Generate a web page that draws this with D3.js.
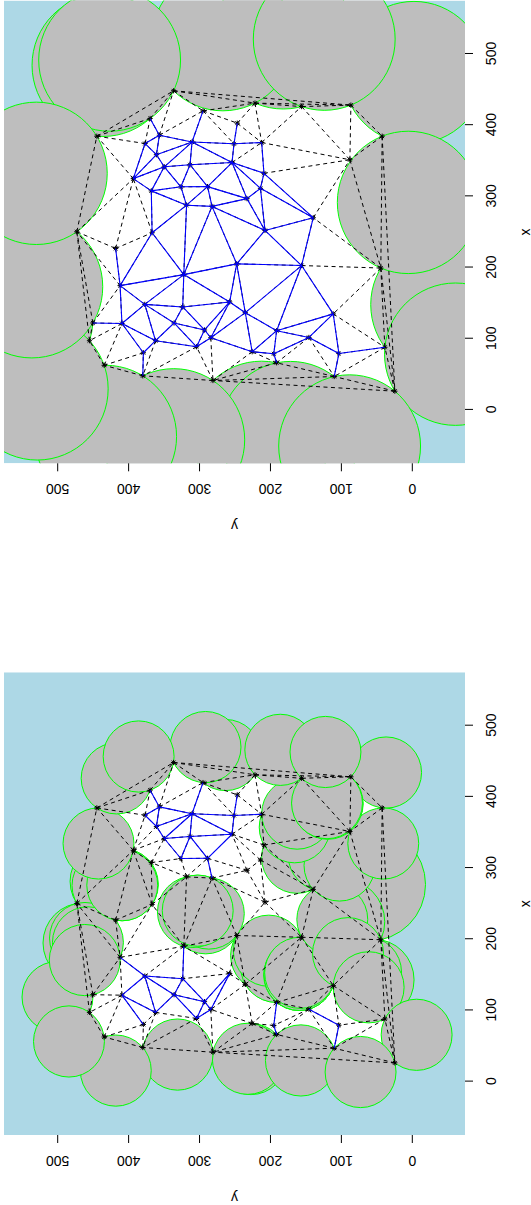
<!DOCTYPE html>
<html>
<head>
<meta charset="utf-8">
<script src="https://cdn.jsdelivr.net/npm/d3@7"></script>
<style>
  body { margin: 0; background: #fff; }
  svg { display: block; }
  text { font-family: "Liberation Sans", Arial, sans-serif; }
</style>
</head>
<body>
<script>
// sample points (x, y in data units)
var ptsX = [448.3, 431.0, 426.1, 428.2, 384.5, 351.4, 270.0, 199.3, 88.0, 26.3,
            46.9, 66.2, 41.3, 47.9, 62.7, 97.2, 122.1, 250.3, 384.5, 420.1,
            409.4, 385.9, 374.2, 376.3, 402.8, 373.9, 347.5, 375.6, 358.5, 344.4,
            341.5, 324.9, 307.7, 313.4, 313.7, 296.8, 287.6, 285.9, 311.3, 332.4,
            248.9, 226.8, 190.1, 205.2, 202.8, 174.6, 148.3, 144.6, 151.7, 136.6,
            121.4, 122.1, 112.3, 101.4, 97.2, 88.7, 80.3, 81.7, 111.3, 78.9,
            101.8, 134.9, 79.2, 252.1];
var ptsY = [335.9, 221.1, 155.4, 85.9, 41.8, 87.3, 139.0, 43.7, 38.0, 23.9,
            109.4, 190.6, 280.4, 379.3, 433.8, 454.5, 449.7, 472.3, 444.1, 294.4,
            369.0, 355.9, 376.1, 309.9, 246.1, 250.7, 253.5, 211.7, 360.1, 312.7,
            349.0, 392.7, 367.3, 325.6, 288.0, 232.4, 317.6, 281.7, 213.4, 208.5,
            366.2, 417.6, 321.5, 246.9, 155.4, 411.3, 376.5, 323.0, 256.8, 234.8,
            408.7, 335.2, 292.3, 283.4, 361.3, 303.5, 378.5, 225.1, 190.6, 194.6,
            145.1, 110.8, 102.8, 207.0];

var xTicks = [0, 100, 200, 300, 400, 500];
var yTicks = [0, 100, 200, 300, 400, 500];

// alpha of each panel (top, bottom)
var alphaTop = 100;
var alphaBottom = 50;

// points whose delaunay edges are drawn blue, per panel
var blueSetTop = [21, 22, 23, 25, 26].concat(d3.range(28, 64));
var dashedOnlyTop = [[31, 41], [31, 40], [40, 41]];
var extraBlueTop = [[20, 21], [19, 23], [24, 25], [27, 25], [27, 39], [6, 39], [6, 38],
                    [6, 63], [6, 44], [6, 35], [8, 62], [10, 62], [11, 59], [13, 56], [16, 50]];

var blueSetBottom = [21, 22, 23, 25, 26, 28, 29, 30, 33, 34,
                     45, 46, 47, 48, 50, 51, 52, 53, 54, 55, 56];
var dashedOnlyBottom = [[47, 48], [54, 55], [54, 56], [45, 50]];
var extraBlueBottom = [[20, 21], [19, 23], [24, 25], [25, 27], [34, 37], [42, 47],
                       [58, 59], [59, 11], [60, 62], [62, 10]];

var pts = ptsX.map(function(v, i) { return [v, ptsY[i]]; });
var delaunay = d3.Delaunay.from(pts);
var tri = delaunay.triangles, half = delaunay.halfedges;
function nextE(e) { return e % 3 === 2 ? e - 2 : e + 1; }
function prevE(e) { return e % 3 === 0 ? e + 2 : e - 1; }

// circumcircles of the triangles (voronoi vertices)
var cc = [];
for (var t = 0; t < tri.length / 3; t++) {
  var a = pts[tri[3 * t]], b = pts[tri[3 * t + 1]], c = pts[tri[3 * t + 2]];
  var d = 2 * (a[0] * (b[1] - c[1]) + b[0] * (c[1] - a[1]) + c[0] * (a[1] - b[1]));
  var a2 = a[0] * a[0] + a[1] * a[1], b2 = b[0] * b[0] + b[1] * b[1], c2 = c[0] * c[0] + c[1] * c[1];
  var ux = (a2 * (b[1] - c[1]) + b2 * (c[1] - a[1]) + c2 * (a[1] - b[1])) / d;
  var uy = (a2 * (c[0] - b[0]) + b2 * (a[0] - c[0]) + c2 * (b[0] - a[0])) / d;
  cc.push({x: ux, y: uy, r: Math.hypot(a[0] - ux, a[1] - uy)});
}
var hullPoly = Array.from(delaunay.hull, function(i) { return pts[i]; });

// each delaunay edge once
var edges = [];
for (var e = 0; e < tri.length; e++) {
  var j = half[e];
  if (j !== -1 && j < e) continue;
  edges.push({e: e, j: j, p: tri[e], q: tri[nextE(e)]});
}

// open balls making up the complement of the alpha-convex hull
function complement(alpha) {
  var balls = [];
  cc.forEach(function(c) {
    if (c.r > alpha && d3.polygonContains(hullPoly, [c.x, c.y])) balls.push({x: c.x, y: c.y, r: c.r});
  });
  edges.forEach(function(ed) {
    var p = pts[ed.p], q = pts[ed.q];
    var mx = (p[0] + q[0]) / 2, my = (p[1] + q[1]) / 2;
    var len = Math.hypot(q[0] - p[0], q[1] - p[1]), h = len / 2;
    if (alpha <= h) return;
    var nx = -(q[1] - p[1]) / len, ny = (q[0] - p[0]) / len;
    var c1 = cc[Math.floor(ed.e / 3)], lo, hi;
    if (ed.j === -1) {
      var r = pts[tri[prevE(ed.e)]];
      if ((r[0] - mx) * nx + (r[1] - my) * ny > 0) { nx = -nx; ny = -ny; }
      lo = (c1.x - mx) * nx + (c1.y - my) * ny;
      hi = Infinity;
    } else {
      var c2 = cc[Math.floor(ed.j / 3)];
      var s1 = (c1.x - mx) * nx + (c1.y - my) * ny, s2 = (c2.x - mx) * nx + (c2.y - my) * ny;
      lo = Math.min(s1, s2); hi = Math.max(s1, s2);
    }
    var sg = Math.sqrt(alpha * alpha - h * h);
    [sg, -sg].forEach(function(s) {
      if (s > lo && s < hi) balls.push({x: mx + s * nx, y: my + s * ny, r: alpha});
    });
  });
  return balls;
}

function key(a, b) { return Math.min(a, b) + "-" + Math.max(a, b); }
function blueEdges(set, dashedOnly, extra) {
  var inSet = new Set(set);
  var skip = new Set(dashedOnly.map(function(d) { return key(d[0], d[1]); }));
  var add = new Set(extra.map(function(d) { return key(d[0], d[1]); }));
  return edges.filter(function(ed) {
    var k = key(ed.p, ed.q);
    if (add.has(k)) return true;
    return inSet.has(ed.p) && inSet.has(ed.q) && !skip.has(k);
  });
}

// plot drawn in R orientation, then turned a quarter
var W = 462.7, H = 461;
var x = d3.scaleLinear().domain([-75, 575]).range([0, W]);
var y = d3.scaleLinear().domain([-75, 575]).range([H, 0]);
var kx = W / 650, ky = H / 650;

var svg = d3.select("body").append("svg").attr("width", 531).attr("height", 1205);

function drawPanel(ty, alpha, blueSet, dashedOnly, extra, id) {
  var g = svg.append("g").attr("transform", "translate(4," + ty + ") rotate(-90)");

  g.append("clipPath").attr("id", id)
    .append("rect").attr("width", W).attr("height", H);
  var plot = g.append("g").attr("clip-path", "url(#" + id + ")");

  // half planes outside the convex hull
  plot.append("rect").attr("width", W).attr("height", H).attr("fill", "#add8e6");
  plot.append("path")
    .datum(hullPoly)
    .attr("d", d3.line().x(function(d) { return x(d[0]); }).y(function(d) { return y(d[1]); }).curve(d3.curveLinearClosed))
    .attr("fill", "#ffffff");

  // balls
  plot.selectAll("ellipse")
    .data(complement(alpha))
    .enter()
    .append("ellipse")
    .attr("cx", function(d) { return x(d.x); })
    .attr("cy", function(d) { return y(d.y); })
    .attr("rx", function(d) { return d.r * kx; })
    .attr("ry", function(d) { return d.r * ky; })
    .attr("fill", "#bebebe")
    .attr("stroke", "#00ff00")
    .attr("stroke-width", 1);

  // delaunay triangulation
  plot.selectAll("line.del")
    .data(edges)
    .enter()
    .append("line")
    .attr("class", "del")
    .attr("x1", function(d) { return x(pts[d.p][0]); })
    .attr("y1", function(d) { return y(pts[d.p][1]); })
    .attr("x2", function(d) { return x(pts[d.q][0]); })
    .attr("y2", function(d) { return y(pts[d.q][1]); })
    .attr("stroke", "#000")
    .attr("stroke-width", 1)
    .attr("stroke-dasharray", "4,3.5");

  // sample points
  plot.selectAll("path.pt")
    .data(pts)
    .enter()
    .append("path")
    .attr("class", "pt")
    .attr("transform", function(d) { return "translate(" + x(d[0]) + "," + y(d[1]) + ")"; })
    .attr("d", "M-2.6,0H2.6M0,-2.6V2.6M-1.9,-1.9L1.9,1.9M-1.9,1.9L1.9,-1.9")
    .attr("stroke", "#000")
    .attr("stroke-width", 1)
    .attr("fill", "none");

  // blue edges
  plot.selectAll("line.blue")
    .data(blueEdges(blueSet, dashedOnly, extra))
    .enter()
    .append("line")
    .attr("class", "blue")
    .attr("x1", function(d) { return x(pts[d.p][0]); })
    .attr("y1", function(d) { return y(pts[d.p][1]); })
    .attr("x2", function(d) { return x(pts[d.q][0]); })
    .attr("y2", function(d) { return y(pts[d.q][1]); })
    .attr("stroke", "#0000ff")
    .attr("stroke-width", 1.1);

  // axes
  var xAxis = g.append("g")
    .attr("transform", "translate(0," + H + ")")
    .call(d3.axisBottom(x).tickValues(xTicks).tickSize(8).tickPadding(13).tickFormat(d3.format("d")));
  var yAxis = g.append("g")
    .call(d3.axisLeft(y).tickValues(yTicks).tickSize(8).tickFormat(d3.format("d")));
  [xAxis, yAxis].forEach(function(ax) {
    ax.select(".domain").remove();
    ax.attr("font-size", 14).attr("font-family", "Liberation Sans, Arial, sans-serif").attr("color", "#000");
  });
  yAxis.selectAll("text")
    .attr("x", null)
    .attr("dy", null)
    .attr("text-anchor", "middle")
    .attr("transform", "translate(-21,0) rotate(-90)");

  g.append("text")
    .attr("x", W / 2)
    .attr("y", H + 64.5)
    .attr("text-anchor", "middle")
    .style("font-size", "14px")
    .text("x");
  g.append("text")
    .attr("transform", "translate(-58," + (H / 2) + ") rotate(-90)")
    .attr("text-anchor", "middle")
    .style("font-size", "14px")
    .text("y");
}

drawPanel(463.3, alphaTop, blueSetTop, dashedOnlyTop, extraBlueTop, "clipTop");
drawPanel(1135, alphaBottom, blueSetBottom, dashedOnlyBottom, extraBlueBottom, "clipBottom");
</script>
</body>
</html>
